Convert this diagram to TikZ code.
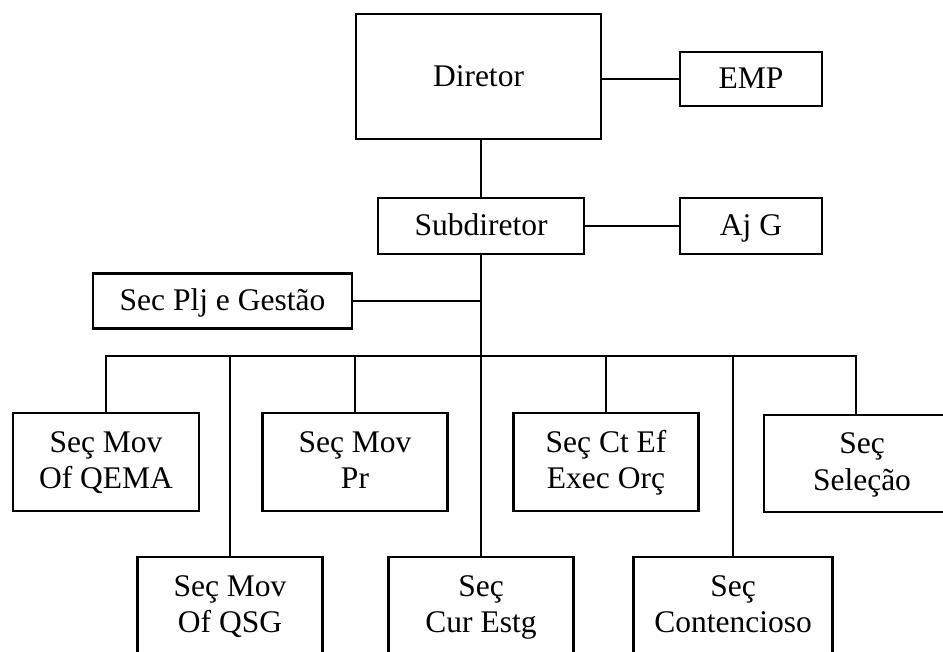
\documentclass[tikz,border=0pt]{standalone}
\usepackage{fontspec}
\setmainfont{Liberation Serif}
\newcommand\lnstrut{\rule[-7.5pt]{0pt}{31.5pt}}
\begin{document}
\begin{tikzpicture}[x=1pt,y=-1pt,
  box/.style={draw, line width=2.8pt, inner sep=0pt, align=center,
    font=\fontsize{31.5}{36.5}\selectfont},
  onebox/.style={box, text height=22pt, text depth=3pt},
  conn/.style={line width=2pt}]
\clip (0,0) rectangle (943,651);
\fill[white] (0,0) rectangle (943,651);
% top levels
\node[onebox, minimum width=245pt, minimum height=125pt] (dir) at (478.5,76.5) {Diretor};
\node[onebox, minimum width=142pt, minimum height=54pt] (emp) at (751,79) {EMP};
\node[onebox, minimum width=206pt, minimum height=56pt] (sub) at (481,226) {Subdiretor};
\node[onebox, minimum width=142pt, minimum height=56pt] (ajg) at (751,226) {Aj G};
\node[onebox, minimum width=259pt, minimum height=55pt] (plj) at (222.5,301) {Sec Plj e Gestão};
% first row
\node[box, minimum width=186pt, minimum height=98pt] (qema) at (106,462) {\lnstrut Seç Mov\\\lnstrut Of QEMA};
\node[box, minimum width=185pt, minimum height=98pt] (pr) at (355,462) {\lnstrut Seç Mov\\\lnstrut Pr};
\node[box, minimum width=185pt, minimum height=98pt] (ctef) at (606,462) {\lnstrut Seç Ct Ef\\\lnstrut Exec Orç};
\node[box, minimum width=196pt, minimum height=97pt] (sel) at (862,463.5) {\lnstrut Seç\\\lnstrut Seleção};
% second row
\node[box, minimum width=185pt, minimum height=98pt] (qsg) at (230,606) {\lnstrut Seç Mov\\\lnstrut Of QSG};
\node[box, minimum width=185pt, minimum height=98pt] (cur) at (481,606) {\lnstrut Seç\\\lnstrut Cur Estg};
\node[box, minimum width=199pt, minimum height=98pt] (cont) at (733,606) {\lnstrut Seç\\\lnstrut Contencioso};
% bus coordinates
\coordinate (bus) at (481,356);
\coordinate (busR) at (856,356);
% connectors
\draw[conn] (sub.north) -- (sub.north |- dir.south);
\draw[conn] (emp.west) -- (emp.west -| dir.east);
\draw[conn] (ajg.west) -- (sub.east);
\draw[conn] (sub.south) -- (cur.north);
\draw[conn] (plj.east) -- (plj.east -| sub.south);
\draw[conn] (qema.north) -- (qema.north |- bus) -- (busR) -- (busR |- sel.north);
\draw[conn] (pr.north) -- (pr.north |- bus);
\draw[conn] (ctef.north) -- (ctef.north |- bus);
\draw[conn] (qsg.north) -- (qsg.north |- bus);
\draw[conn] (cont.north) -- (cont.north |- bus);
\end{tikzpicture}
\end{document}
